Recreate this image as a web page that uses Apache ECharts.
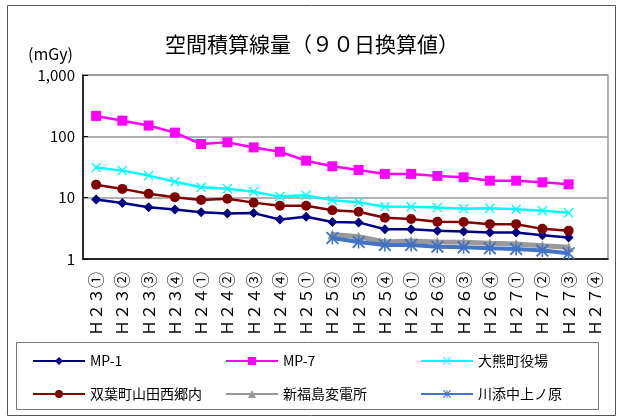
<!DOCTYPE html>
<html>
<head>
<meta charset="utf-8">
<script src="https://cdn.jsdelivr.net/npm/echarts@6/dist/echarts.min.js"></script>
<style>
  html, body { margin: 0; padding: 0; background: #fff; }
  #main { width: 623px; height: 419px; }
</style>
</head>
<body>
<div id="main"></div>
<script>
var categories = ['Ｈ２３①', 'Ｈ２３②', 'Ｈ２３③', 'Ｈ２３④', 'Ｈ２４①', 'Ｈ２４②', 'Ｈ２４③', 'Ｈ２４④',
    'Ｈ２５①', 'Ｈ２５②', 'Ｈ２５③', 'Ｈ２５④', 'Ｈ２６①', 'Ｈ２６②', 'Ｈ２６③', 'Ｈ２６④',
    'Ｈ２７①', 'Ｈ２７②', 'Ｈ２７③', 'Ｈ２７④'];

var mp1 = [9.3, 8.2, 7.0, 6.4, 5.8, 5.5, 5.6, 4.4, 4.9, 4.0, 3.95, 3.05, 3.05, 2.9, 2.8, 2.7, 2.7, 2.45, 2.25, null];
var mp7 = [215, 180, 150, 115, 75, 80, 66, 56, 40, 32.5, 28.3, 24.4, 24.4, 22.6, 21.5, 18.9, 18.9, 17.8, 16.5, null];
var okuma = [30.9, 27.6, 22.9, 18.2, 14.8, 14.0, 12.5, 10.4, 10.9, 9.1, 8.4, 7.1, 7.1, 6.9, 6.6, 6.7, 6.5, 6.1, 5.7, null];
var futaba = [16.3, 13.9, 11.6, 10.2, 9.2, 9.6, 8.3, 7.4, 7.4, 6.25, 5.9, 4.7, 4.5, 4.06, 4.0, 3.7, 3.7, 3.1, 2.9, null];
var shinfuku = [null, null, null, null, null, null, null, null, null, 2.5, 2.3, 1.9, 1.97, 1.9, 1.87, 1.8, 1.76, 1.65, 1.55, null];
var kawazoe = [null, null, null, null, null, null, null, null, null, 2.2, 1.9, 1.69, 1.69, 1.59, 1.55, 1.5, 1.46, 1.37, 1.24, null];

var yTicks = [1, 10, 100, 1000];
var yTickLabels = ['1', '10', '100', '1,000'];

var font = 'Noto Sans CJK JP';
var crossPath = 'path://M0,1L1,0L5,4L9,0L10,1L6,5L10,9L9,10L5,6L1,10L0,9L4,5Z';
var starPath = 'path://M0,1L1,0L5,4L9,0L10,1L6,5L10,9L9,10L5,6L1,10L0,9L4,5Z M4.4,0L5.6,0L5.6,10L4.4,10Z';

var chart = echarts.init(document.getElementById('main'));

function mkLegend(name, left, top) {
    return {
        data: [name],
        left: left,
        top: top,
        padding: 0,
        itemWidth: 52,
        itemHeight: 10,
        itemGap: 0,
        textStyle: { fontFamily: font, fontSize: 14, color: '#000' },
        selectedMode: false
    };
}

var option = {
    animation: false,
    backgroundColor: '#fff',
    textStyle: { fontFamily: font },
    title: {
        text: '空間積算線量（９０日換算値）',
        left: 307,
        textAlign: 'center',
        top: 29,
        textStyle: { fontFamily: font, fontSize: 21, fontWeight: 'normal', color: '#000' }
    },
    graphic: [
        { type: 'rect', shape: { x: 7.5, y: 5.5, width: 608, height: 410 }, style: { fill: 'none', stroke: '#555', lineWidth: 1 }, silent: true },
        { type: 'rect', shape: { x: 16.5, y: 342.5, width: 582, height: 67 }, style: { fill: 'none', stroke: '#777', lineWidth: 1 }, silent: true },
        { type: 'text', left: 28, top: 46, style: { text: '(mGy)', font: '16px "Noto Sans CJK JP"', fill: '#000' } }
    ],
    legend: [
        mkLegend('MP-1', 32, 354),
        mkLegend('MP-7', 225, 354),
        mkLegend('大熊町役場', 420, 354),
        mkLegend('双葉町山田西郷内', 32, 387),
        mkLegend('新福島変電所', 225, 387),
        mkLegend('川添中上ノ原', 420, 387)
    ],
    grid: {
        left: 83, right: 15, top: 75, bottom: 160,
        show: true, borderColor: '#999', borderWidth: 1.5,
        containLabel: false
    },
    xAxis: {
        type: 'category',
        data: categories,
        boundaryGap: true,
        axisLine: { lineStyle: { color: '#000', width: 1.5 } },
        axisTick: { inside: true, length: 5, interval: 0, lineStyle: { color: '#000' } },
        axisLabel: { rotate: 90, interval: 0, fontSize: 16, color: '#000', fontFamily: font, margin: 13 },
        splitLine: { show: false }
    },
    yAxis: {
        type: 'log',
        logBase: 10,
        min: 1,
        max: 1000,
        axisLine: { show: true, lineStyle: { color: '#000', width: 1.5 } },
        axisTick: { show: true, inside: true, length: 5, lineStyle: { color: '#000' } },
        axisLabel: {
            fontSize: 15, color: '#000', fontFamily: font, margin: 8,
            formatter: function (v) {
                var i = yTicks.indexOf(Math.round(v));
                return i >= 0 ? yTickLabels[i] : '';
            }
        },
        splitLine: { lineStyle: { color: '#999', width: 1.5 } },
        minorTick: { show: false }
    },
    series: [
        {
            name: 'MP-1', type: 'line', data: mp1, symbol: 'diamond', symbolSize: 10,
            lineStyle: { color: '#000080', width: 2.5 }, itemStyle: { color: '#000080' }, z: 5
        },
        {
            name: 'MP-7', type: 'line', data: mp7, symbol: 'rect', symbolSize: 10,
            lineStyle: { color: '#FF00FF', width: 2.5 }, itemStyle: { color: '#FF00FF' }, z: 5
        },
        {
            name: '大熊町役場', type: 'line', data: okuma, symbol: crossPath, symbolSize: 10,
            lineStyle: { color: '#00FFFF', width: 2.5 }, itemStyle: { color: '#00FFFF' }, z: 5
        },
        {
            name: '双葉町山田西郷内', type: 'line', data: futaba, symbol: 'circle', symbolSize: 10,
            lineStyle: { color: '#800000', width: 2.5 }, itemStyle: { color: '#800000' }, z: 5
        },
        {
            name: '新福島変電所', type: 'line', data: shinfuku, symbol: 'triangle', symbolSize: 10,
            lineStyle: { color: '#999999', width: 5 }, itemStyle: { color: '#999999' }, z: 3
        },
        {
            name: '川添中上ノ原', type: 'line', data: kawazoe, symbol: starPath, symbolSize: 13,
            lineStyle: { color: '#4472C4', width: 4 }, itemStyle: { color: '#4472C4' }, z: 4
        }
    ]
};

chart.setOption(option);
</script>
</body>
</html>
